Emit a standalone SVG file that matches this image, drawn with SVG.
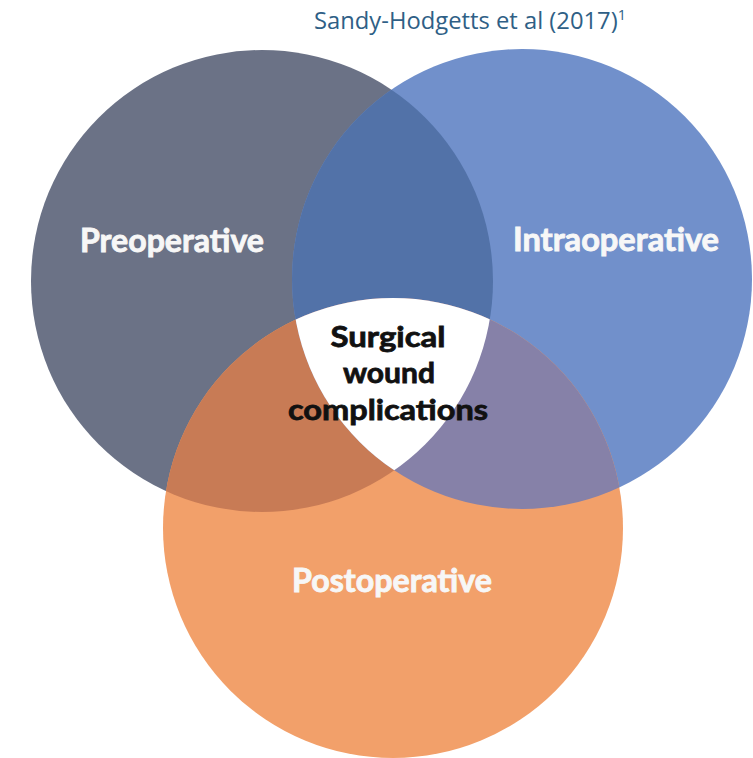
<svg xmlns="http://www.w3.org/2000/svg" width="753" height="758" viewBox="0 0 753 758">
  <style>
    .label { font-family: Lato, "Liberation Sans", sans-serif; font-weight: 700; fill: #f7f7f7; stroke: #f7f7f7; stroke-width: 0.9px; font-size: 33px; }
    .core { font-family: Lato, "Liberation Sans", sans-serif; font-weight: 700; fill: #111111; stroke: #111111; stroke-width: 0.8px; font-size: 29px; text-anchor: middle; }
    .cite { font-family: "Open Sans", "Liberation Sans", sans-serif; fill: #2f5f86; font-size: 23px; }
  </style>
  <defs>
    <circle id="cPre" cx="262" cy="281" r="231"/>
    <circle id="cIntra" cx="522" cy="279" r="230"/>
    <circle id="cPost" cx="393" cy="528" r="230"/>
    <clipPath id="clipPre"><use href="#cPre"/></clipPath>
    <clipPath id="clipIntra"><use href="#cIntra"/></clipPath>
  </defs>

  <rect width="753" height="758" fill="#ffffff"/>

  <text class="cite" x="314" y="29" textLength="312" lengthAdjust="spacingAndGlyphs">Sandy-Hodgetts et al (2017)<tspan dy="-9" font-size="14">1</tspan></text>

  <!-- base circles -->
  <g id="preoperative">
    <use href="#cPre" fill="#6b7286"/>
  </g>
  <g id="intraoperative">
    <use href="#cIntra" fill="#7190cb"/>
  </g>
  <g id="postoperative">
    <use href="#cPost" fill="#f2a06a"/>
  </g>

  <!-- overlaps -->
  <g id="overlaps">
    <g clip-path="url(#clipPre)">
      <use href="#cIntra" fill="#5272a8"/>
      <use href="#cPost" fill="#c87b55"/>
    </g>
    <g clip-path="url(#clipIntra)">
      <use href="#cPost" fill="#8681a8"/>
      <g clip-path="url(#clipPre)">
        <use href="#cPost" fill="#ffffff"/>
      </g>
    </g>
  </g>

  <!-- labels -->
  <text class="label" x="80" y="252" textLength="184" lengthAdjust="spacingAndGlyphs">Preoperative</text>
  <text class="label" x="513" y="251" textLength="206" lengthAdjust="spacingAndGlyphs">Intraoperative</text>
  <text class="label" x="292" y="592" textLength="200" lengthAdjust="spacingAndGlyphs">Postoperative</text>

  <g id="surgical-wound-complications">
    <text class="core" x="388" y="347" textLength="115" lengthAdjust="spacingAndGlyphs">Surgical</text>
    <text class="core" x="389" y="383" textLength="92" lengthAdjust="spacingAndGlyphs">wound</text>
    <text class="core" x="388" y="420" textLength="200" lengthAdjust="spacingAndGlyphs">complications</text>
  </g>
</svg>
